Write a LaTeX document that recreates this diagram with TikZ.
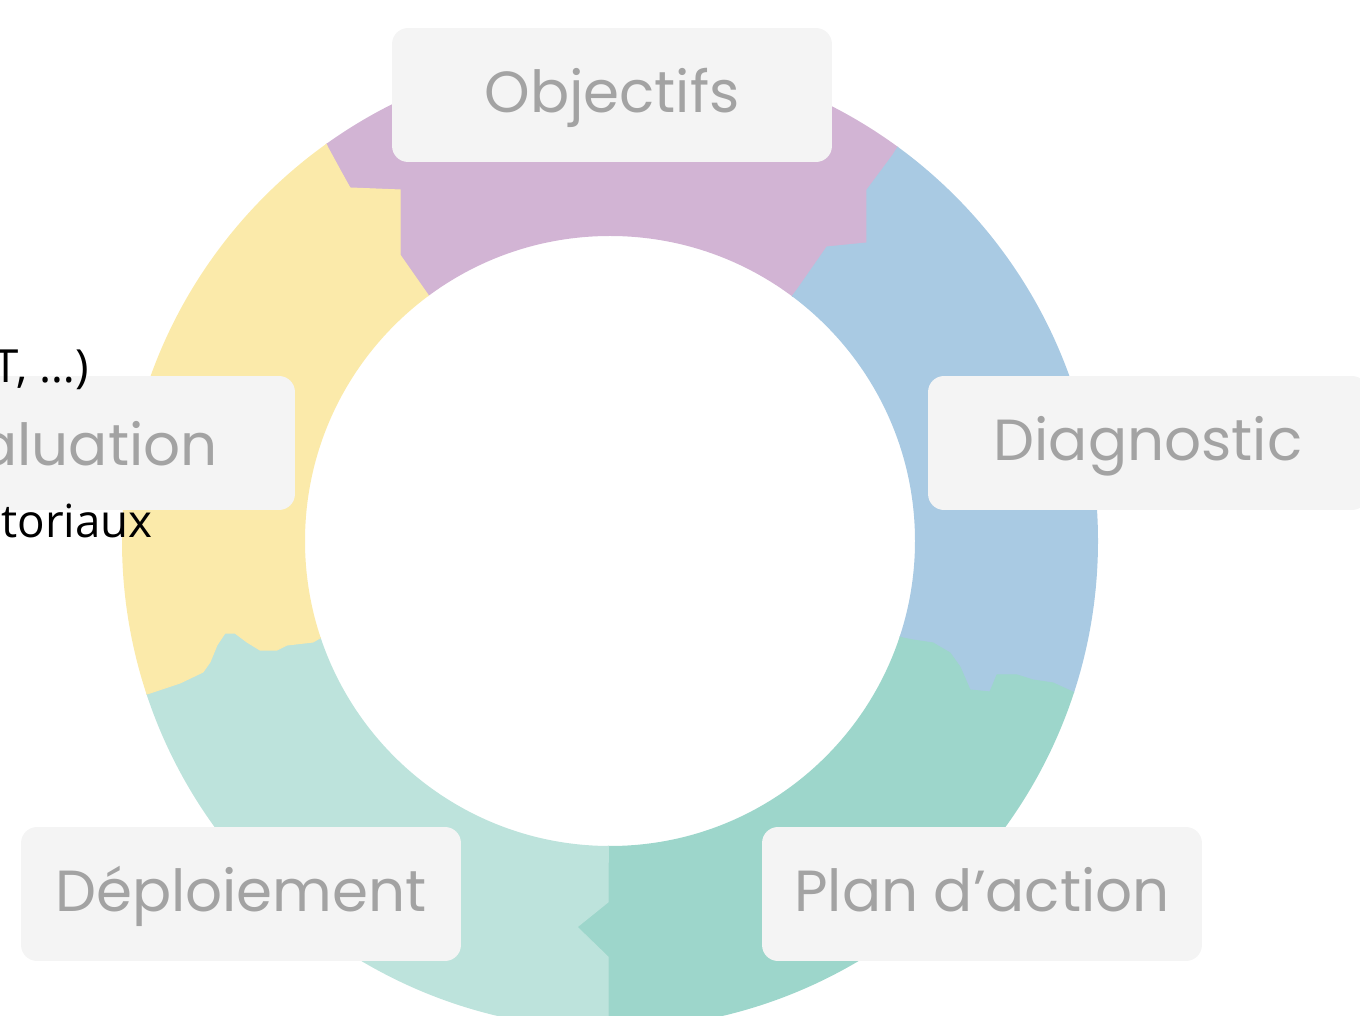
\documentclass[tikz,border=0pt]{standalone}
\usepackage{fontspec}
\usetikzlibrary{positioning}
\newfontfamily\etapefont{Poppins}
\newfontfamily\textefont{Open Sans}
\definecolor{colobj}{HTML}{D2B4D4}
\definecolor{coldiag}{HTML}{A9CAE3}
\definecolor{colplan}{HTML}{9DD6CB}
\definecolor{coldep}{HTML}{BDE3DC}
\definecolor{coleval}{HTML}{FBEAAA}
\definecolor{boite}{HTML}{F4F4F4}
\definecolor{gristxt}{HTML}{A3A3A3}

\begin{document}
\begin{tikzpicture}[x=0.02cm,y=-0.02cm]
	\tikzstyle{etape}=[rectangle, rounded corners=0.32cm, fill=boite, minimum width=8.8cm, minimum height=2.68cm, text height=23pt, text depth=3.3pt, text=gristxt, font=\etapefont\fontsize{33}{40}\selectfont]
	\tikzstyle{texte}=[inner sep=0pt, text=black, font=\textefont\fontsize{26}{32}\selectfont]
	\tikzstyle{morceau}=[line width=0.6pt]
	
	\useasboundingbox (0,0) rectangle (1360,1016);
	\coordinate (c) at (610,541);
	
	% anneau en cinq morceaux
	\begin{scope}[even odd rule]
		\clip (c) circle (488) (c) circle (305);
		\filldraw[morceau, fill=colobj, draw=colobj] (c) -- (428,295) -- (400,255) -- (400,190) -- (350,188) -- (340,170) -- (328,148) -- (300,90) -- (300,-100) -- (930,-100) -- (930,95) -- (893,155) -- (867,190) -- (867,243) -- (827,247) -- (797,290) -- cycle;
		\filldraw[morceau, fill=coldiag, draw=coldiag] (c) -- (797,290) -- (827,247) -- (867,243) -- (867,190) -- (893,155) -- (930,95) -- (1300,95) -- (1300,705) -- (1140,705) -- (1075,693) -- (1053,683) -- (1033,680) -- (1017,675) -- (997,675) -- (990,692) -- (970,690) -- (960,667) -- (950,653) -- (933,643) -- (913,640) -- (903,638) -- cycle;
		\filldraw[morceau, fill=colplan, draw=colplan] (c) -- (903,638) -- (913,640) -- (933,643) -- (950,653) -- (960,667) -- (970,690) -- (990,692) -- (997,675) -- (1017,675) -- (1033,680) -- (1053,683) -- (1075,693) -- (1140,705) -- (1140,1100) -- (608,1100) -- (608,957) -- (577,927) -- (608,902) -- cycle;
		\filldraw[morceau, fill=coldep, draw=coldep] (c) -- (608,902) -- (577,927) -- (608,957) -- (608,1100) -- (90,1100) -- (90,710) -- (150,693) -- (180,683) -- (203,672) -- (210,662) -- (217,645) -- (225,633) -- (235,633) -- (247,642) -- (260,650) -- (277,650) -- (287,645) -- (313,642) -- (320,638) -- cycle;
		\filldraw[morceau, fill=coleval, draw=coleval] (c) -- (320,638) -- (313,642) -- (287,645) -- (277,650) -- (260,650) -- (247,642) -- (235,633) -- (225,633) -- (217,645) -- (210,662) -- (203,672) -- (180,683) -- (150,693) -- (90,710) -- (-100,710) -- (-100,90) -- (300,90) -- (328,148) -- (340,170) -- (350,188) -- (400,190) -- (400,255) -- (428,295) -- cycle;
	\end{scope}
	
	\node[etape] (objectifs) at (612,95) {Objectifs};
	\node[etape] (diagnostic) at (1148,443) {Diagnostic};
	\node[etape] (plan) at (982,894) {Plan d’action};
	\node[etape] (deploiement) at (241,894) {Déploiement};
	\node[etape] (evaluation) at (75,443) {};
	\node[etape, fill=none, inner sep=0pt, minimum width=0pt, minimum height=0pt, text height=, text depth=, anchor=base east] (evaltexte) at (218,466) {aluation};
	
	\node[texte, anchor=base east] (ligne1) at (89,383) {T, …)};
	\node[texte, anchor=base east] (ligne2) at (153,538) {toriaux};
\end{tikzpicture}
\end{document}
